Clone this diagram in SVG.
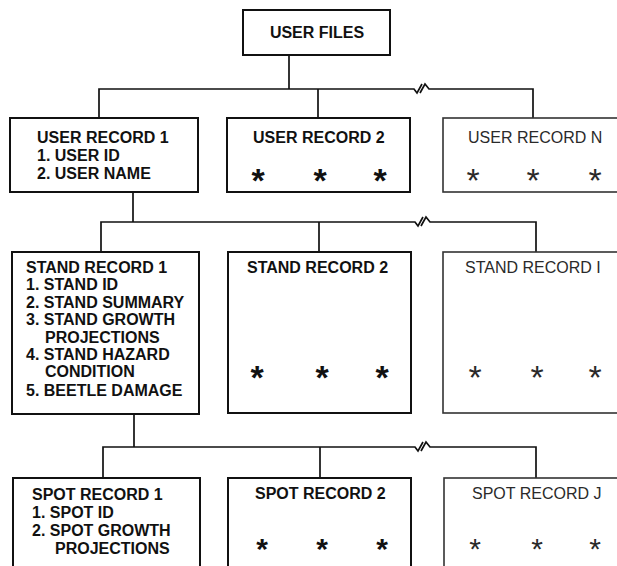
<svg xmlns="http://www.w3.org/2000/svg" width="617" height="566" viewBox="0 0 617 566">
<style>
.box{fill:#fff;stroke:#111;stroke-width:2}
.box2{fill:#fff;stroke:#333;stroke-width:1.6}
.ln{fill:none;stroke:#111;stroke-width:1.7;stroke-linejoin:miter}
text{font-family:"Liberation Sans",Arial,sans-serif;font-size:16px;font-weight:bold;fill:#111}
.lt{font-weight:normal;fill:#2a2a2a}
.ast{font-size:34px;text-anchor:middle}
.ast2{font-size:30px;text-anchor:middle}
</style>
<g id="connectors">
<path class="ln" d="M289,55 V89"/>
<path class="ln" d="M99,118 V89 H414 L417,93 L422,84 M420,93 L425,84 L429,89 H533 V118"/>
<path class="ln" d="M318,89 V118"/>
<path class="ln" d="M133,192 V222"/>
<path class="ln" d="M101,252 V222 H415 L418,226 L423,217 M421,226 L426,217 L430,222 H536 V252"/>
<path class="ln" d="M319,222 V252"/>
<path class="ln" d="M134,414 V447"/>
<path class="ln" d="M103,478 V447 H415 L418,451 L423,442 M421,451 L426,442 L430,447 H536 V478"/>
<path class="ln" d="M320,447 V478"/>
</g>
<g id="user-files">
<rect class="box" x="243" y="10" width="147" height="45"/>
<text x="317" y="38" text-anchor="middle">USER FILES</text>
</g>
<g id="user-record-1">
<rect class="box" x="10" y="118" width="188" height="74"/>
<text x="37" y="143">USER RECORD 1</text>
<text x="37" y="161">1. USER ID</text>
<text x="37" y="179">2. USER NAME</text>
</g>
<g id="user-record-2">
<rect class="box" x="227" y="118" width="183" height="74"/>
<text x="253" y="143">USER RECORD 2</text>
<text class="ast" x="258" y="192">*</text>
<text class="ast" x="320" y="192">*</text>
<text class="ast" x="380" y="192">*</text>
</g>
<g id="user-record-n">
<rect class="box2" x="443" y="118" width="190" height="74"/>
<text class="lt" x="468" y="143">USER RECORD N</text>
<text class="ast lt" x="473" y="192">*</text>
<text class="ast lt" x="533" y="192">*</text>
<text class="ast lt" x="595" y="192">*</text>
</g>
<g id="stand-record-1">
<rect class="box" x="12" y="252" width="187" height="162"/>
<text x="26" y="273">STAND RECORD 1</text>
<text x="26" y="290">1. STAND ID</text>
<text x="26" y="307.5">2. STAND SUMMARY</text>
<text x="26" y="325">3. STAND GROWTH</text>
<text x="45" y="342.5">PROJECTIONS</text>
<text x="26" y="360">4. STAND HAZARD</text>
<text x="45" y="377">CONDITION</text>
<text x="26" y="396">5. BEETLE DAMAGE</text>
</g>
<g id="stand-record-2">
<rect class="box" x="228" y="252" width="183" height="161"/>
<text x="247" y="273">STAND RECORD 2</text>
<text class="ast" x="257" y="389">*</text>
<text class="ast" x="322" y="389">*</text>
<text class="ast" x="382" y="389">*</text>
</g>
<g id="stand-record-i">
<rect class="box2" x="443" y="252" width="190" height="161"/>
<text class="lt" x="465" y="273">STAND RECORD I</text>
<text class="ast lt" x="475" y="389">*</text>
<text class="ast lt" x="537" y="389">*</text>
<text class="ast lt" x="595" y="389">*</text>
</g>
<g id="spot-record-1">
<rect class="box" x="13" y="478" width="187" height="100"/>
<text x="32" y="500">SPOT RECORD 1</text>
<text x="32" y="518">1. SPOT ID</text>
<text x="32" y="536">2. SPOT GROWTH</text>
<text x="55" y="554">PROJECTIONS</text>
</g>
<g id="spot-record-2">
<rect class="box" x="228" y="478" width="183" height="100"/>
<text x="255" y="499">SPOT RECORD 2</text>
<text class="ast2" x="262" y="559">*</text>
<text class="ast2" x="322" y="559">*</text>
<text class="ast2" x="382" y="559">*</text>
</g>
<g id="spot-record-j">
<rect class="box2" x="444" y="478" width="190" height="100"/>
<text class="lt" x="472" y="499">SPOT RECORD J</text>
<text class="ast2 lt" x="475" y="559">*</text>
<text class="ast2 lt" x="537" y="559">*</text>
<text class="ast2 lt" x="595" y="559">*</text>
</g>
</svg>
